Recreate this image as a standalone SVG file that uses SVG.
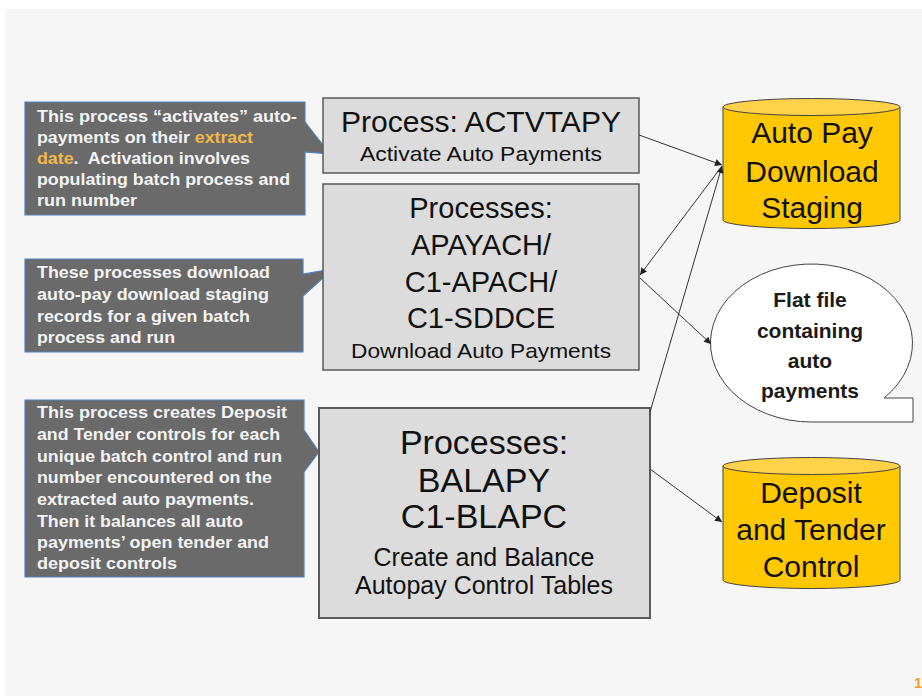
<svg xmlns="http://www.w3.org/2000/svg" width="922" height="696" viewBox="0 0 922 696">
<style>
.bg{fill:#f6f6f6}
.co{fill:#6a6a6a;stroke:#4f81bd;stroke-width:1.2}
.ct{font-family:"Liberation Sans",Arial,sans-serif;font-weight:bold;font-size:16px;fill:#f4f4f4}
.hl{fill:#f2b84b}
.box{fill:#dcdcdc;stroke:#5a5a5a;stroke-width:1.5}
.bt{font-family:"Liberation Sans",Arial,sans-serif;fill:#111;text-anchor:middle}
.cyl{fill:#ffc800;stroke:#444;stroke-width:1}
.cyltop{fill:#ffd24a;stroke:#444;stroke-width:1}
.bub{fill:#ffffff;stroke:#444;stroke-width:1}
.bubt{font-family:"Liberation Sans",Arial,sans-serif;font-weight:bold;font-size:21px;fill:#1a1a1a;text-anchor:middle}
.ln{fill:none;stroke:#333;stroke-width:1;marker-end:url(#ah)}
</style>
<defs>
<marker id="ah" viewBox="0 0 10 10" refX="10" refY="5" markerWidth="8" markerHeight="7" markerUnits="userSpaceOnUse" orient="auto">
<path d="M0,0 L10,5 L0,10 Z" fill="#222"/>
</marker>
</defs>
<rect x="0" y="0" width="922" height="696" fill="#ffffff"/>
<rect class="bg" x="5" y="9" width="917" height="687"/>

<g id="callout1">
<path class="co" d="M25,102 H305 V122 L330,154 L305,152 V215 H25 Z"/>
<text class="ct" x="37" y="122" textLength="260" lengthAdjust="spacingAndGlyphs">This process “activates” auto-</text>
<text class="ct" x="37" y="143" textLength="216" lengthAdjust="spacingAndGlyphs">payments on their <tspan class="hl">extract</tspan></text>
<text class="ct" x="37" y="164" textLength="213" lengthAdjust="spacingAndGlyphs"><tspan class="hl">date</tspan>.&#160; Activation involves</text>
<text class="ct" x="37" y="185" textLength="253" lengthAdjust="spacingAndGlyphs">populating batch process and</text>
<text class="ct" x="37" y="206" textLength="100" lengthAdjust="spacingAndGlyphs">run number</text>
</g>

<g id="callout2">
<path class="co" d="M25,259 H303 V274 L333,269 L303,296 V352 H25 Z"/>
<text class="ct" x="37" y="278" textLength="233" lengthAdjust="spacingAndGlyphs">These processes download</text>
<text class="ct" x="37" y="300" textLength="232" lengthAdjust="spacingAndGlyphs">auto-pay download staging</text>
<text class="ct" x="37" y="322" textLength="213" lengthAdjust="spacingAndGlyphs">records for a given batch</text>
<text class="ct" x="37" y="343" textLength="138" lengthAdjust="spacingAndGlyphs">process and run</text>
</g>

<g id="callout3">
<path class="co" d="M25,400 H304 V430 L319,452 L304,472 V577 H25 Z"/>
<text class="ct" x="37" y="418" textLength="250" lengthAdjust="spacingAndGlyphs">This process creates Deposit</text>
<text class="ct" x="37" y="440" textLength="243" lengthAdjust="spacingAndGlyphs">and Tender controls for each</text>
<text class="ct" x="37" y="462" textLength="245" lengthAdjust="spacingAndGlyphs">unique batch control and run</text>
<text class="ct" x="37" y="483" textLength="235" lengthAdjust="spacingAndGlyphs">number encountered on the</text>
<text class="ct" x="37" y="505" textLength="217" lengthAdjust="spacingAndGlyphs">extracted auto payments.</text>
<text class="ct" x="37" y="527" textLength="206" lengthAdjust="spacingAndGlyphs">Then it balances all auto</text>
<text class="ct" x="37" y="548" textLength="232" lengthAdjust="spacingAndGlyphs">payments’ open tender and</text>
<text class="ct" x="37" y="569" textLength="140" lengthAdjust="spacingAndGlyphs">deposit controls</text>
</g>

<g id="actvtapy">
<rect class="box" x="323" y="98" width="316" height="75"/>
<text class="bt" x="481" y="132" font-size="29" textLength="280" lengthAdjust="spacingAndGlyphs">Process: ACTVTAPY</text>
<text class="bt" x="481" y="161" font-size="21" textLength="242" lengthAdjust="spacingAndGlyphs">Activate Auto Payments</text>
</g>

<g id="apayach">
<rect class="box" x="323" y="184" width="316" height="186"/>
<text class="bt" x="481" y="218" font-size="29">Processes:</text>
<text class="bt" x="481" y="255" font-size="29">APAYACH/</text>
<text class="bt" x="481" y="292" font-size="29">C1-APACH/</text>
<text class="bt" x="481" y="328" font-size="29">C1-SDDCE</text>
<text class="bt" x="481" y="358" font-size="21" textLength="260" lengthAdjust="spacingAndGlyphs">Download Auto Payments</text>
</g>

<g id="balapy">
<rect class="box" x="319" y="408" width="331" height="210" style="stroke-width:2"/>
<text class="bt" x="484" y="454" font-size="34">Processes:</text>
<text class="bt" x="484" y="492" font-size="34">BALAPY</text>
<text class="bt" x="484" y="528" font-size="34">C1-BLAPC</text>
<text class="bt" x="484" y="566" font-size="25">Create and Balance</text>
<text class="bt" x="484" y="594" font-size="25">Autopay Control Tables</text>
</g>

<g id="staging">
<path class="cyl" d="M723,107 V220 A88.5,8.5 0 0 0 900,220 V107 Z"/>
<ellipse class="cyltop" cx="811.5" cy="107" rx="88.5" ry="8.5"/>
<text class="bt" x="812" y="143" font-size="30">Auto Pay</text>
<text class="bt" x="812" y="182" font-size="30">Download</text>
<text class="bt" x="812" y="218" font-size="30">Staging</text>
</g>

<g id="flatfile">
<path class="bub" d="M884,398 L913,398 L913,422 L812,422 A101,79 0 1 1 884,398 Z"/>
<text class="bubt" x="810" y="307">Flat file</text>
<text class="bubt" x="810" y="338">containing</text>
<text class="bubt" x="810" y="368">auto</text>
<text class="bubt" x="810" y="398">payments</text>
</g>

<g id="deposit">
<path class="cyl" d="M723,466 V580 A88.5,8.5 0 0 0 900,580 V466 Z"/>
<ellipse class="cyltop" cx="811.5" cy="466" rx="88.5" ry="8.5"/>
<text class="bt" x="811" y="503" font-size="30">Deposit</text>
<text class="bt" x="811" y="540" font-size="30">and Tender</text>
<text class="bt" x="811" y="577" font-size="30">Control</text>
</g>

<g id="connectors">
<line class="ln" x1="639" y1="135" x2="722" y2="165"/>
<line class="ln" x1="722" y1="166" x2="640" y2="275"/>
<line class="ln" x1="640" y1="278" x2="711" y2="344"/>
<line class="ln" x1="650" y1="412" x2="722" y2="166"/>
<line class="ln" x1="650" y1="469" x2="722" y2="522"/>
</g>

<text x="914" y="688" font-family="'Liberation Sans',Arial,sans-serif" font-size="15" font-weight="bold" fill="#f0a030">1</text>
</svg>
